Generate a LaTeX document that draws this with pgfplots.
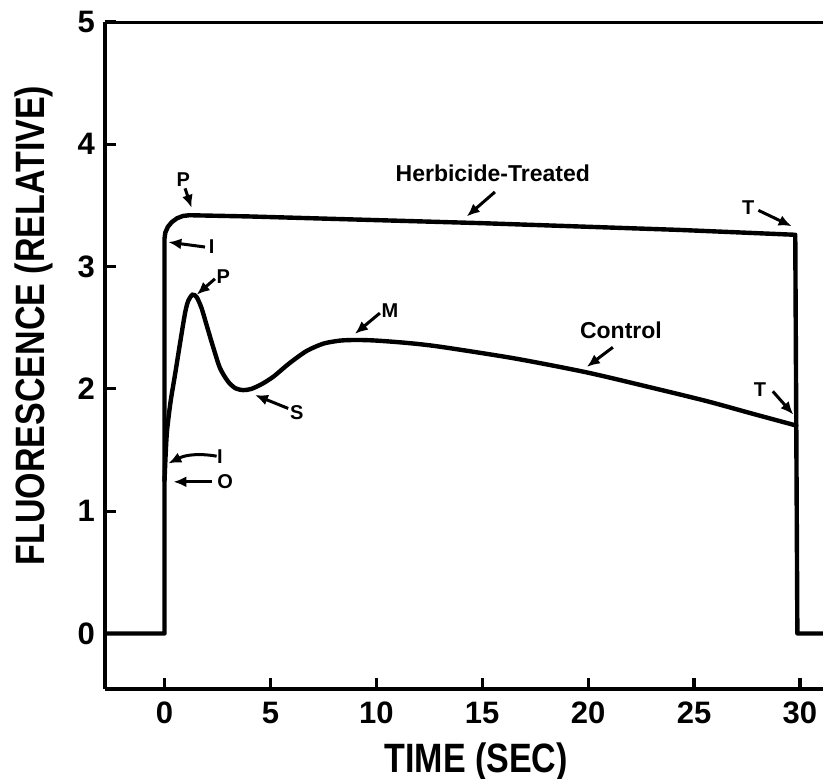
\documentclass[border=0pt]{standalone}
\usepackage{fontspec}
\setmainfont{Liberation Sans}
\newfontfamily\condfont{Liberation Sans}[FakeStretch=0.83]
\usepackage{pgfplots}
\pgfplotsset{compat=1.18}
\usetikzlibrary{arrows.meta}

\tikzset{
  lab/.style={font=\bfseries\fontsize{10}{12}\selectfont, inner sep=0pt},
  big/.style={font=\bfseries\fontsize{11.5}{13}\selectfont, inner sep=0pt},
  pt/.style={-{Latex[length=6.5pt,width=5.5pt]}, line width=1.5pt},
}

\begin{document}
\begin{tikzpicture}
\useasboundingbox (-52.5pt,-44.5pt) rectangle (359pt,344.5pt);
\begin{axis}[
    scale only axis,
    width=359pt, height=333.5pt,
    xmin=-2.81, xmax=31.09,
    ymin=-0.454, ymax=5,
    axis x line*=bottom, axis y line*=left,
    axis line style={-, line width=1.6pt},
    xtick={0,5,10,15,20,25,30},
    ytick={0,1,2,3,4,5},
    tick align=inside,
    major tick length=5.5pt,
    tick style={line width=1.6pt, black},
    /pgf/number format/assume math mode=true,
    ticklabel style={font=\bfseries\fontsize{15.5}{16}\selectfont},
    xticklabel style={yshift=-3pt},
    yticklabel style={xshift=-1.5pt},
    xlabel={TIME (SEC)},
    ylabel={FLUORESCENCE (RELATIVE)},
    every axis x label/.style={at={([yshift=-41.5pt]axis description cs:0.517,0)}, anchor=base,
        font=\condfont\bfseries\fontsize{20.5}{24}\selectfont},
    every axis y label/.style={at={([xshift=-30pt]axis description cs:0,0.545)}, anchor=base, rotate=90,
        font=\condfont\bfseries\fontsize{20.5}{24}\selectfont},
]
% top frame line (no right spine in the reference)
\draw[line width=1.6pt] (rel axis cs:0,1) -- (rel axis cs:1,1);

% herbicide-treated trace
\addplot[black, line width=2.2pt, line join=round] coordinates {
    (-2.81,0) (0,0) (0,3.23)
    (0.04,3.279) (0.158,3.325) (0.346,3.364) (0.59,3.395) (0.874,3.414) (1.18,3.42)
    (4,3.41) (8,3.39) (15,3.355) (24.3,3.30) (29.78,3.26)
    (29.88,0) (31.3,0)
};

% control trace
\addplot[black, line width=2.2pt, smooth, tension=0.45, line cap=round] coordinates {
    (0,1.25) (0.05,1.45) (0.12,1.66) (0.29,1.90) (0.5,2.12) (0.73,2.37)
    (0.97,2.62) (1.12,2.72) (1.32,2.77) (1.52,2.75) (1.75,2.66) (1.99,2.52)
    (2.3,2.34) (2.62,2.17) (3.0,2.06) (3.35,2.005) (3.72,1.99) (4.1,2.0)
    (4.6,2.04) (5.14,2.10) (5.9,2.21) (6.71,2.31) (7.5,2.37) (8.3,2.395)
    (9.1,2.40) (10,2.395) (11.5,2.375) (13,2.345) (16.5,2.25) (19.93,2.135)
    (23,2.01) (25.6,1.90) (27.7,1.80) (29.83,1.70)
};

% annotations
\node[big] at (axis cs:15.5,3.765) {Herbicide-Treated};
\draw[pt] (axis cs:15.6,3.61) -- (axis cs:14.27,3.41);
\node[big] at (axis cs:21.55,2.48) {Control};
\draw[pt] (axis cs:21.17,2.34) -- (axis cs:19.94,2.18);
\node[lab] at (axis cs:10.64,2.64) {M};
\draw[pt] (axis cs:10.17,2.62) -- (axis cs:8.99,2.45);
\node[lab] at (axis cs:0.89,3.71) {P};
\draw[pt] (axis cs:0.97,3.64) -- (axis cs:1.28,3.48);
\node[lab] at (axis cs:2.23,3.16) {I};
\draw[pt] (axis cs:1.91,3.16) -- (axis cs:0.18,3.20);
\node[lab] at (axis cs:2.78,2.92) {P};
\draw[pt] (axis cs:2.38,2.90) -- (axis cs:1.52,2.77);
\node[lab] at (axis cs:6.24,1.81) {S};
\draw[pt] (axis cs:5.84,1.84) -- (axis cs:4.27,1.95);
\node[lab] at (axis cs:2.62,1.45) {I};
\draw[pt] (axis cs:2.46,1.45) to[bend right=18] (axis cs:0.18,1.39);
\node[lab] at (axis cs:2.86,1.24) {O};
\draw[pt] (axis cs:2.23,1.24) -- (axis cs:0.42,1.24);
\node[lab] at (axis cs:27.56,3.48) {T};
\draw[pt] (axis cs:28.04,3.46) -- (axis cs:29.61,3.33);
\node[lab] at (axis cs:28.11,1.99) {T};
\draw[pt] (axis cs:28.72,1.98) -- (axis cs:29.69,1.79);
\end{axis}
\end{tikzpicture}
\end{document}
